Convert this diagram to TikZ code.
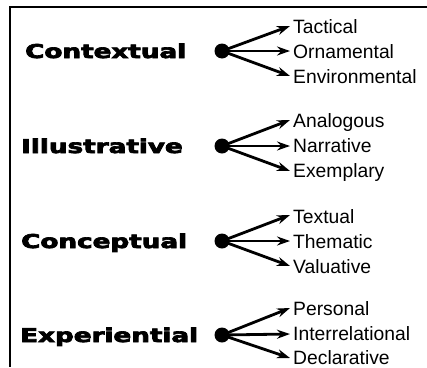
\documentclass[tikz,border=0pt]{standalone}
\usepackage{fontspec}
\usepackage{graphicx}
\setmainfont{Liberation Sans}
\newfontfamily\heavyfont[FakeBold=3.5]{DejaVu Sans Bold}
\usetikzlibrary{arrows.meta}
\usetikzlibrary{positioning}

\tikzset{
    catlabel/.style={anchor=base west, inner sep=0pt, font=\heavyfont\fontsize{19}{19}\selectfont},
    sublabel/.style={anchor=base west, inner sep=0pt, font=\fontsize{19.3}{19.3}\selectfont},
    hub/.style={circle, fill=black, inner sep=0pt, minimum size=15pt},
    fan/.style={-{Stealth[length=13pt,width=9pt]}, line width=2.8pt}
}
\newcommand{\wide}[1]{\scalebox{1.38}[1]{#1}}

\begin{document}
\begin{tikzpicture}[x=1pt, y=-1pt]
    \useasboundingbox (0,0) rectangle (427,367);
    % frame: top and left edges only
    \draw[line width=1.2pt] (427,7) -- (10,7) -- (10,367);

    % Contextual group
    \node[catlabel] (ctx) at (25,58) {\wide{Contextual}};
    \node[hub] (ctxhub) at (222,51) {};
    \node[sublabel] (tac) at (293,33.5) {Tactical};
    \node[sublabel] (orn) at (293,58) {Ornamental};
    \node[sublabel] (env) at (293,83) {Environmental};
    \coordinate (tacend) at (290,26);
    \coordinate (ornend) at (290,51);
    \coordinate (envend) at (290,76);
    \draw[fan] (ctxhub.center) -- (tacend);
    \draw[fan] (ctxhub.center) -- (ornend);
    \draw[fan] (ctxhub.center) -- (envend);

    % Illustrative group
    \node[catlabel] (ill) at (21,153) {\wide{Illustrative}};
    \node[hub] (illhub) at (222,146) {};
    \node[sublabel] (ana) at (293,127.5) {Analogous};
    \node[sublabel] (nar) at (293,152.5) {Narrative};
    \node[sublabel] (exe) at (293,177) {Exemplary};
    \coordinate (anaend) at (290,120);
    \coordinate (narend) at (290,146);
    \coordinate (exeend) at (290,171);
    \draw[fan] (illhub.center) -- (anaend);
    \draw[fan] (illhub.center) -- (narend);
    \draw[fan] (illhub.center) -- (exeend);

    % Conceptual group
    \node[catlabel] (con) at (21,248) {\wide{Conceptual}};
    \node[hub] (conhub) at (222,241) {};
    \node[sublabel] (tex) at (293,223) {Textual};
    \node[sublabel] (the) at (293,248) {Thematic};
    \node[sublabel] (val) at (293,273.5) {Valuative};
    \coordinate (texend) at (290,215);
    \coordinate (theend) at (290,241);
    \coordinate (valend) at (290,266);
    \draw[fan] (conhub.center) -- (texend);
    \draw[fan] (conhub.center) -- (theend);
    \draw[fan] (conhub.center) -- (valend);

    % Experiential group
    \node[catlabel] (exp) at (20,342) {\wide{Experiential}};
    \node[hub] (exphub) at (222,335) {};
    \node[sublabel] (per) at (293,315) {Personal};
    \node[sublabel] (int) at (293,340.5) {Interrelational};
    \node[sublabel] (dec) at (293,364) {Declarative};
    \coordinate (perend) at (290,308);
    \coordinate (intend) at (290,334);
    \coordinate (decend) at (290,358);
    \draw[fan] (exphub.center) -- (perend);
    \draw[fan] (exphub.center) -- (intend);
    \draw[fan] (exphub.center) -- (decend);
\end{tikzpicture}
\end{document}
